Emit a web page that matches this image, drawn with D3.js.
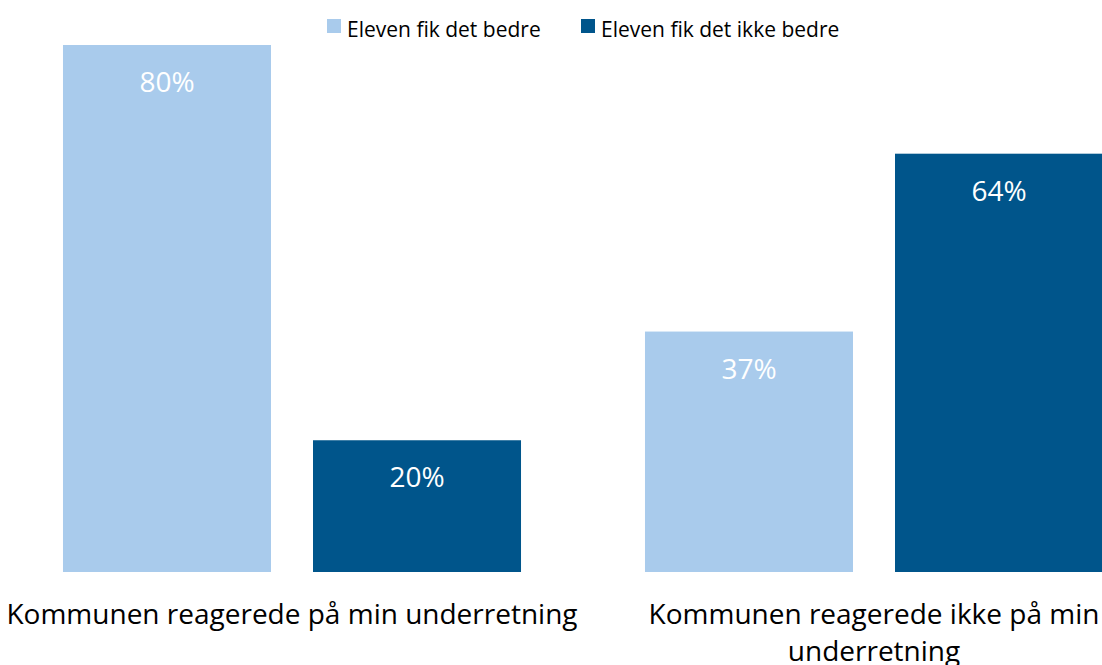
<!DOCTYPE html>
<html>
<head>
<meta charset="utf-8">
<script src="https://cdn.jsdelivr.net/npm/d3@7"></script>
<style>
  body { margin: 0; background: #fff; }
  svg { display: block; font-family: "Open Sans", sans-serif; }
</style>
</head>
<body>
<div id="chart"></div>
<script>
// Chart data
const categories = ['Kommunen reagerede på min underretning', 'Kommunen reagerede ikke på min underretning'];
const seriesNames = ['Eleven fik det bedre', 'Eleven fik det ikke bedre'];
const betterValues = [80, 36.5];
const notBetterValues = [20, 63.5];

const colors = ['#a9cbec', '#00558b'];

const width = 1102;
const height = 665;
const baseline = 572;

const svg = d3.select('#chart')
    .append('svg')
    .attr('width', width)
    .attr('height', height);

// scales
const x0 = d3.scaleBand()
    .domain(categories)
    .range([1, 1165])
    .paddingInner(0.213)
    .paddingOuter(0.1065);

const x1 = d3.scaleBand()
    .domain(seriesNames)
    .range([0, x0.bandwidth()])
    .paddingInner(0.168);

const y = d3.scaleLinear()
    .domain([0, 80])
    .range([baseline, 45]);

const rows = categories.map((c, i) => ({
    category: c,
    values: [
        { series: seriesNames[0], value: betterValues[i] },
        { series: seriesNames[1], value: notBetterValues[i] }
    ]
}));

const groups = svg.selectAll('g.group')
    .data(rows)
    .join('g')
    .attr('class', 'group')
    .attr('transform', d => `translate(${x0(d.category)},0)`);

groups.selectAll('rect')
    .data(d => d.values)
    .join('rect')
    .attr('x', d => x1(d.series))
    .attr('y', d => y(d.value))
    .attr('width', x1.bandwidth())
    .attr('height', d => y(0) - y(d.value))
    .attr('fill', (d, i) => colors[i]);

groups.selectAll('text.value')
    .data(d => d.values)
    .join('text')
    .attr('class', 'value')
    .attr('x', d => x1(d.series) + x1.bandwidth() / 2)
    .attr('y', d => y(d.value) + 47)
    .attr('text-anchor', 'middle')
    .attr('fill', '#fff')
    .style('font-size', '28px')
    .text(d => Math.round(d.value) + '%');

// category axis (no line, no ticks)
const xAxis = svg.append('g')
    .attr('transform', `translate(0,${baseline})`)
    .call(d3.axisBottom(x0).tickSize(0));
xAxis.select('.domain').remove();
xAxis.selectAll('text')
    .attr('fill', '#000')
    .style('font-size', '28px')
    .style('font-family', '"Open Sans", sans-serif')
    .attr('y', 52)
    .attr('dy', 0)
    .call(wrap, x0.step());

function wrap(texts, maxWidth) {
    texts.each(function() {
        const text = d3.select(this);
        const words = text.text().split(/\s+/);
        const yPos = text.attr('y');
        let line = [];
        let lineNo = 0;
        let tspan = text.text(null).append('tspan').attr('x', 0).attr('y', yPos);
        words.forEach(word => {
            line.push(word);
            tspan.text(line.join(' '));
            if (tspan.node().getComputedTextLength() > maxWidth && line.length > 1) {
                line.pop();
                tspan.text(line.join(' '));
                line = [word];
                lineNo++;
                tspan = text.append('tspan')
                    .attr('x', 0)
                    .attr('y', +yPos + lineNo * 37)
                    .text(word);
            }
        });
    });
}

// legend
const legend = svg.append('g')
    .selectAll('g')
    .data(seriesNames)
    .join('g')
    .attr('transform', (d, i) => `translate(${[327, 581][i]},19)`);

legend.append('rect')
    .attr('width', 14)
    .attr('height', 14)
    .attr('fill', (d, i) => colors[i]);

legend.append('text')
    .attr('x', 20)
    .attr('y', 18)
    .style('font-size', '21px')
    .attr('fill', '#000')
    .text(d => d);
</script>
</body>
</html>
